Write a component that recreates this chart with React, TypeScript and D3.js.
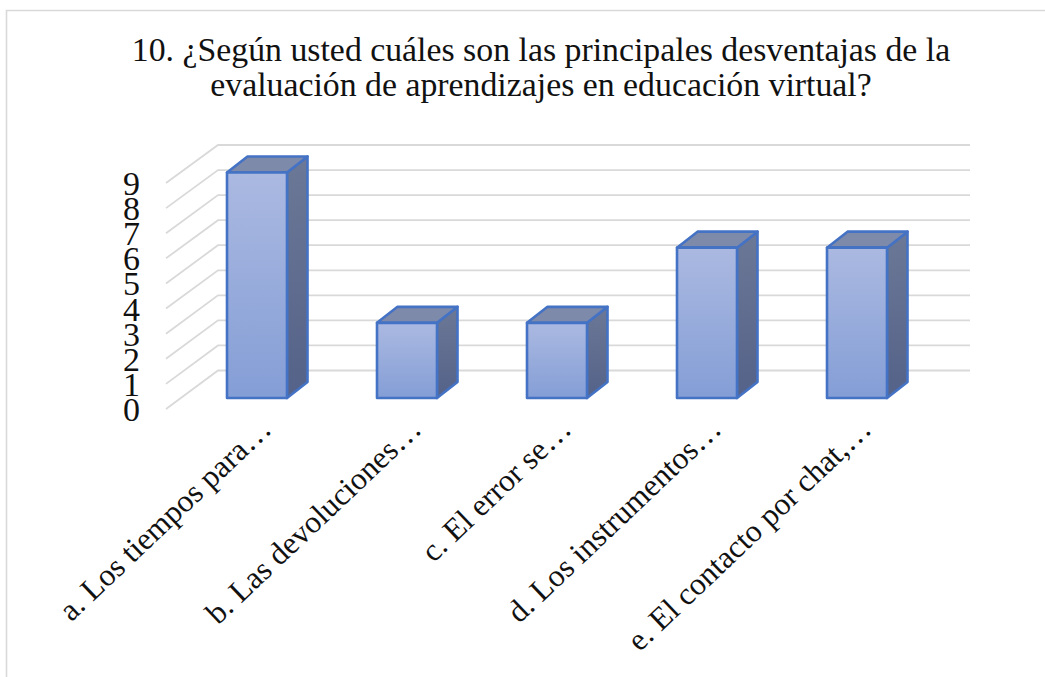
import React from "react";
import * as d3 from "d3";

const titleLines = ["10. ¿Según usted cuáles son las principales desventajas de la", "evaluación de aprendizajes en educación virtual?"];
const categories = ["a. Los tiempos para…", "b. Las devoluciones…", "c. El error se…", "d. Los instrumentos…", "e. El contacto por chat,…"];
const values = [9, 3, 3, 6, 6];
const ticks = [0, 1, 2, 3, 4, 5, 6, 7, 8, 9];

const serif = "'Liberation Serif', 'Times New Roman', serif";
const W = 1045, H = 677;

export default function App() {
  const y = d3.scaleLinear().domain([0, 9]).range([398, 172.5]);
  const x = d3.scaleBand<string>().domain(categories).range([182, 932]).paddingInner(0.6).paddingOuter(0.3);
  const gx = { front: 166, back: 218, right: 970 };
  const gridFrontY = d3.scaleLinear().domain([0, 9]).range([409, 183]);
  const gridBackY = d3.scaleLinear().domain([0, 9]).range([370.5, 145]);
  const dx = 20.5, dy = -16;
  const line = d3.line();
  const poly = (pts: [number, number][]) => line(pts) + "Z";
  return (
    <svg width={W} height={H} viewBox={`0 0 ${W} ${H}`} style={{ position: "absolute", left: 0, top: 0, background: "#fff" }}>
      <defs>
        <linearGradient id="front" x1="0" y1="0" x2="0" y2="1">
          <stop offset="0" stopColor="#abb9e1" />
          <stop offset="1" stopColor="#849ed6" />
        </linearGradient>
        <linearGradient id="side" x1="0" y1="0" x2="0" y2="1">
          <stop offset="0" stopColor="#6b7896" />
          <stop offset="1" stopColor="#556289" />
        </linearGradient>
      </defs>
      <path d="M6.5,677V10.5H1045" fill="none" stroke="#d9d9d9" strokeWidth={1.6} />
      <g fontFamily={serif} fontSize={33.8} fill="#111" textAnchor="middle">
        {titleLines.map((t, i) => <text key={i} x={541} y={61 + i * 35}>{t}</text>)}
      </g>
      <g fill="none" stroke="#d9d9d9" strokeWidth={1.8}>
        {ticks.map(t => (
          <path key={t} d={line([[gx.front, gridFrontY(t)], [gx.back, gridBackY(t)], [gx.right, gridBackY(t)]]) || ""} />
        ))}
      </g>
      <g fontFamily={serif} fontSize={34} fill="#111" textAnchor="end">
        {ticks.map(t => <text key={t} x={140} y={gridFrontY(t) + 12}>{t}</text>)}
      </g>
      <g stroke="#4472c4" strokeWidth={2.6} strokeLinejoin="round">
        {values.map((v, i) => {
          const x0 = x(categories[i])!, x1 = x0 + x.bandwidth();
          const top = y(v), bot = y(0);
          return (
            <g key={i}>
              <path fill="url(#side)" d={poly([[x1, top], [x1 + dx, top + dy], [x1 + dx, bot + dy], [x1, bot]])} />
              <path fill="#7e8aaa" d={poly([[x0, top], [x0 + dx, top + dy], [x1 + dx, top + dy], [x1, top]])} />
              <path fill="url(#front)" d={poly([[x0, top], [x1, top], [x1, bot], [x0, bot]])} />
            </g>
          );
        })}
      </g>
      <g fontFamily={serif} fontSize={31.5} fill="#111" textAnchor="end">
        {categories.map((c) => {
          const px = x(c)! + x.bandwidth() - 14, py = 431;
          return <text key={c} transform={`translate(${px},${py}) rotate(-43.5)`}>{c}</text>;
        })}
      </g>
    </svg>
  );
}
